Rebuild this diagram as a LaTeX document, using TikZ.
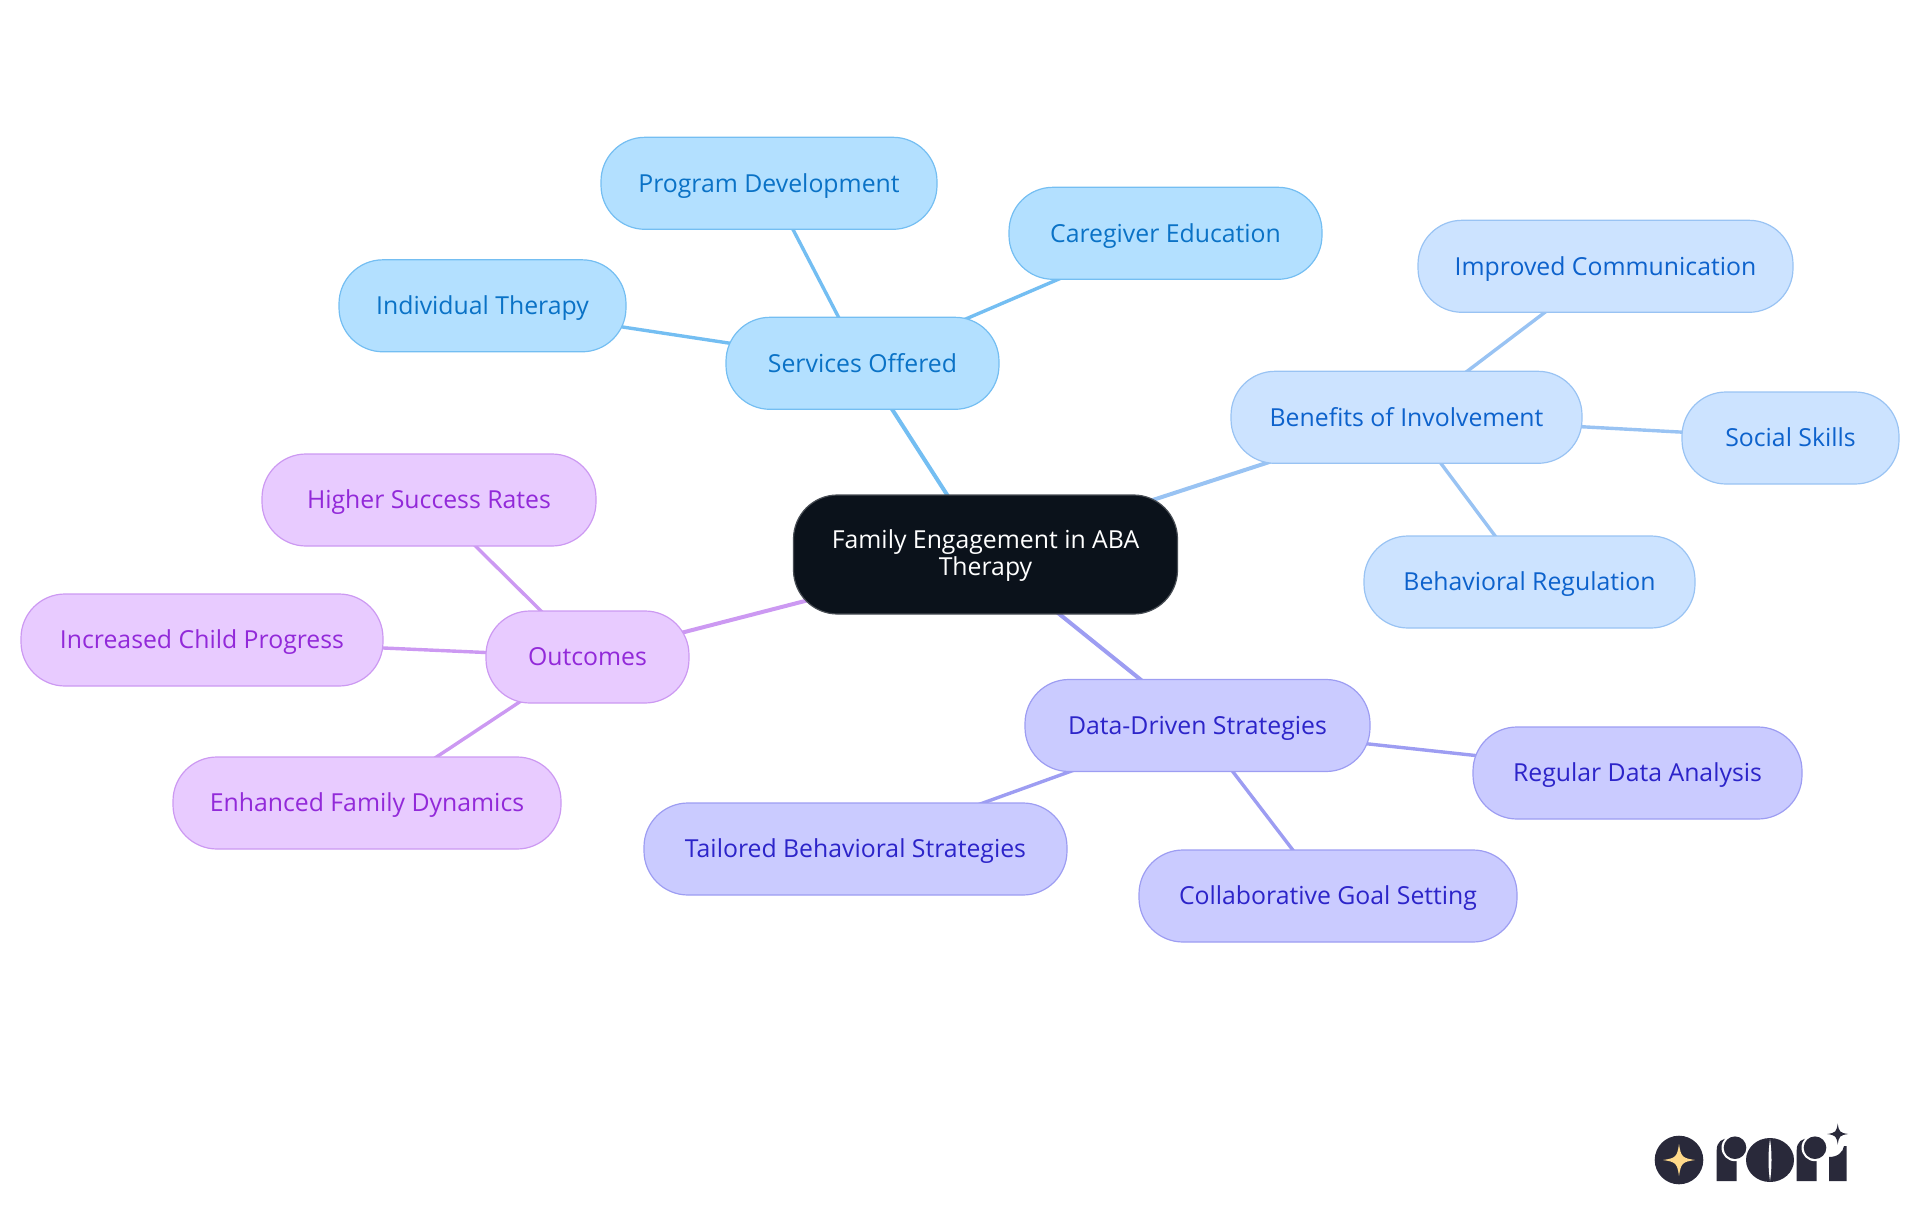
\documentclass[tikz,border=0pt]{standalone}
\usepackage{fontspec}
\setmainfont{Open Sans}
\usetikzlibrary{backgrounds}
\definecolor{blueF}{HTML}{B3E0FF}\definecolor{blueS}{HTML}{74BEF2}\definecolor{blueT}{HTML}{0A72C6}
\definecolor{skyF}{HTML}{CCE3FF}\definecolor{skyS}{HTML}{99C3F3}\definecolor{skyT}{HTML}{0D62CC}
\definecolor{indF}{HTML}{CACBFF}\definecolor{indS}{HTML}{9D9DF2}\definecolor{indT}{HTML}{2C24C9}
\definecolor{purF}{HTML}{E8CBFF}\definecolor{purS}{HTML}{CC99F2}\definecolor{purT}{HTML}{9229D9}
\definecolor{rootF}{HTML}{0B121B}\definecolor{logoD}{HTML}{29293A}\definecolor{logoY}{HTML}{FFD98A}
\tikzset{
  x=1pt,y=-1pt,
  mmbase/.style={rectangle,rounded corners=44pt,line width=1.2pt,inner sep=0pt,align=center,font=\fontsize{24.8}{27.7}\selectfont},
  mm/.style={mmbase,minimum height=92pt,text height=21pt,text depth=3.6pt},
  rootnode/.style={mmbase,fill=rootF,draw=rootF!75!white,text=white,minimum height=119pt,minimum width=384pt},
  nblue/.style={mm,fill=blueF,draw=blueS,text=blueT},
  nsky/.style={mm,fill=skyF,draw=skyS,text=skyT},
  nind/.style={mm,fill=indF,draw=indS,text=indT},
  npur/.style={mm,fill=purF,draw=purS,text=purT},
  edgeA/.style={line width=4pt},
  edgeB/.style={line width=3.4pt},
}
\newcommand{\fourstar}[4]{% cx cy r colour
  \fill[#4] (#1-#3,#2) .. controls (#1-0.2*#3,#2-0.12*#3) and (#1-0.12*#3,#2-0.2*#3) .. (#1,#2-#3)
   .. controls (#1+0.12*#3,#2-0.2*#3) and (#1+0.2*#3,#2-0.12*#3) .. (#1+#3,#2)
   .. controls (#1+0.2*#3,#2+0.12*#3) and (#1+0.12*#3,#2+0.2*#3) .. (#1,#2+#3)
   .. controls (#1-0.12*#3,#2+0.2*#3) and (#1-0.2*#3,#2+0.12*#3) .. (#1-#3,#2) -- cycle;}
\begin{document}
\begin{tikzpicture}
\useasboundingbox (0,0) rectangle (1920,1215);
\node[rootnode] (root) at (985.5,554.5) {\rule{0pt}{21pt}Family Engagement in ABA\\Therapy\rule[-3.6pt]{0pt}{3.6pt}};
\node[nblue,minimum width=273pt] (svc) at (862.5,363.3) {Services Offered};
\node[nblue,minimum width=336pt] (prog) at (769,183.3) {Program Development};
\node[nblue,minimum width=313pt] (care) at (1165.5,233.3) {Caregiver Education};
\node[nblue,minimum width=287pt] (indv) at (482.5,305.8) {Individual Therapy};
\node[nsky,minimum width=351pt] (ben) at (1406.5,417.3) {Benefits of Involvement};
\node[nsky,minimum width=375pt] (comm) at (1605.5,266.3) {Improved Communication};
\node[nsky,minimum width=217pt] (soc) at (1790.5,438) {Social Skills};
\node[nsky,minimum width=331pt] (reg) at (1529.5,582) {Behavioral Regulation};
\node[nind,minimum width=345pt] (data) at (1197.5,725.5) {Data-Driven Strategies};
\node[nind,minimum width=329pt] (anal) at (1637.5,773) {Regular Data Analysis};
\node[nind,minimum width=423pt] (tail) at (855.5,849) {Tailored Behavioral Strategies};
\node[nind,minimum width=378pt] (goal) at (1328,896) {Collaborative Goal Setting};
\node[npur,minimum width=203pt] (out) at (587.5,657) {Outcomes};
\node[npur,minimum width=334pt] (high) at (429,500) {Higher Success Rates};
\node[npur,minimum width=362pt] (incr) at (202,640) {Increased Child Progress};
\node[npur,minimum width=388pt] (enh) at (367,803) {Enhanced Family Dynamics};
\begin{scope}[on background layer]
\draw[blueS,edgeA] (root.center) -- (svc.center);
\draw[blueS,edgeB] (svc.center) -- (prog.center);
\draw[blueS,edgeB] (svc.center) -- (care.center);
\draw[blueS,edgeB] (svc.center) -- (indv.center);
\draw[skyS,edgeA] (root.center) -- (ben.center);
\draw[skyS,edgeB] (ben.center) -- (comm.center);
\draw[skyS,edgeB] (ben.center) -- (soc.center);
\draw[skyS,edgeB] (ben.center) -- (reg.center);
\draw[indS,edgeA] (root.center) -- (data.center);
\draw[indS,edgeB] (data.center) -- (anal.center);
\draw[indS,edgeB] (data.center) -- (tail.center);
\draw[indS,edgeB] (data.center) -- (goal.center);
\draw[purS,edgeA] (root.center) -- (out.center);
\draw[purS,edgeB] (out.center) -- (high.center);
\draw[purS,edgeB] (out.center) -- (incr.center);
\draw[purS,edgeB] (out.center) -- (enh.center);
\end{scope}
% logo
\fill[logoD] (1679,1160) circle[radius=24.3];
\fourstar{1679}{1160}{16}{logoY}
% first r
\fill[logoD] (1716.7,1181) -- (1716.7,1150) .. controls (1716.7,1142) and (1722,1138) .. (1730,1138.3) -- (1736.7,1150) -- (1736.7,1181) -- cycle;
\fill[white] (1735,1147.7) circle[radius=13.5];
\fill[logoD] (1735,1147.7) circle[radius=11.3];
% o
\fill[logoD] (1770,1160) ellipse[x radius=24,y radius=22];
\fill[white] (1770,1139) .. controls (1768,1152) and (1768,1168) .. (1770,1181) .. controls (1772,1168) and (1772,1152) .. (1770,1139) -- cycle;
% second r
\fill[logoD] (1796.7,1181) -- (1796.7,1150) .. controls (1796.7,1142) and (1802,1138) .. (1810,1138.3) -- (1816.7,1150) -- (1816.7,1181) -- cycle;
\fill[white] (1815,1147.7) circle[radius=13.5];
\fill[logoD] (1815,1147.7) circle[radius=11.3];
% i
\fill[logoD] (1829,1181) -- (1829,1157) .. controls (1838,1157) and (1843,1152) .. (1844,1146) -- (1846.7,1146) -- (1846.7,1181) -- cycle;
\fourstar{1837.7}{1134}{10.5}{logoD}
\end{tikzpicture}
\end{document}
